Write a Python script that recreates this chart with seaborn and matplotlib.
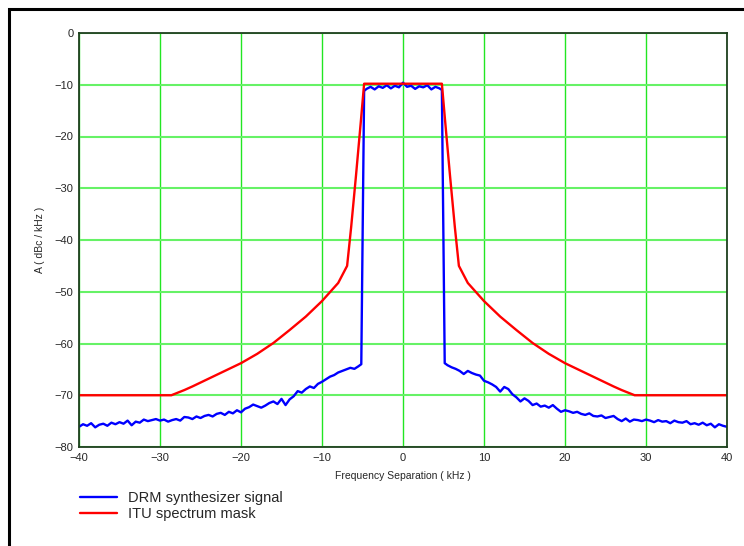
import numpy as np
import pandas as pd
import matplotlib
matplotlib.use("Agg")
import matplotlib.pyplot as plt
from matplotlib.patches import Rectangle
import seaborn as sns

# DRM synthesizer signal (dBc/kHz), lower skirt, passband, upper skirt
freq_low = np.arange(-40, -5.4, 0.5)
sig_low = [-76.1, -75.6, -75.9, -75.4, -76.2, -75.7, -75.5, -75.9, -75.3, -75.6,
           -75.2, -75.5, -74.9, -75.8, -75.1, -75.3, -74.7, -75.0, -74.8, -74.6,
           -74.9, -74.7, -75.1, -74.8, -74.6, -74.9, -74.2, -74.3, -74.6, -74.1,
           -74.4, -74.0, -73.8, -74.1, -73.6, -73.4, -73.8, -73.2, -73.5, -72.9,
           -73.3, -72.6, -72.3, -71.8, -72.1, -72.4, -72.0, -71.5, -71.2, -71.7,
           -70.7, -71.9, -70.8, -70.2, -69.2, -69.5, -68.8, -68.3, -68.6, -67.8,
           -67.4, -66.9, -66.4, -66.1, -65.6, -65.3, -65.0, -64.7, -64.9, -64.4]
freq_edge_l = [-5.15, -4.8]
sig_edge_l = [-64.0, -11.2]
freq_pass = np.arange(-4.5, 4.6, 0.5)
sig_pass = [-10.8, -10.4, -10.9, -10.3, -10.6, -10.1, -10.7, -10.2, -10.5, -9.6,
            -10.4, -10.2, -10.8, -10.3, -10.5, -10.1, -10.9, -10.4, -10.7]
freq_edge_r = [4.8, 5.15]
sig_edge_r = [-11.0, -63.8]
freq_high = np.arange(5.5, 40.1, 0.5)
sig_high = [-64.2, -64.6, -64.9, -65.3, -65.9, -65.3, -65.7, -66.0, -66.2, -67.2,
            -67.5, -67.9, -68.4, -69.3, -68.4, -68.8, -69.8, -70.4, -71.2, -70.6,
            -71.1, -71.9, -71.6, -72.2, -72.0, -72.4, -71.9, -72.6, -73.2, -72.9,
            -73.1, -73.4, -73.2, -73.6, -73.8, -73.5, -74.0, -74.1, -73.9, -74.4,
            -74.2, -74.0, -74.6, -75.0, -74.5, -75.1, -74.7, -74.8, -75.0, -74.7,
            -74.9, -75.2, -74.8, -75.1, -75.0, -75.4, -74.9, -75.2, -75.3, -75.0,
            -75.6, -75.4, -75.7, -75.3, -75.8, -75.5, -76.2, -75.6, -75.9, -76.1]

# ITU spectrum mask
mask_freq = [-40, -28.6, -27, -26, -24, -22, -20, -18, -16, -14, -12, -10, -8, -6.9,
             -6.4, -5.8, -5.2, -4.8, 4.8, 5.2, 5.8, 6.4, 6.9, 8, 10, 12, 14,
             16, 18, 20, 22, 24, 26, 27, 28.6, 40]
mask_level = [-70, -70, -69.0, -68.3, -66.8, -65.3, -63.8, -62.0, -59.9, -57.4,
              -54.8, -51.8, -48.3, -45.0, -37.5, -27.5, -17.0, -9.8, -9.8, -17.0,
              -27.5, -37.5, -45.0, -48.3, -51.8, -54.8, -57.4, -59.9, -62.0, -63.8,
              -65.3, -66.8, -68.3, -69.0, -70, -70]

signal = pd.DataFrame({
    "freq": np.concatenate([freq_low, freq_edge_l, freq_pass, freq_edge_r, freq_high]),
    "level": np.concatenate([sig_low, sig_edge_l, sig_pass, sig_edge_r, sig_high]),
})
mask = pd.DataFrame({"freq": mask_freq, "level": mask_level})

sns.set_style("white")
plt.rcParams["font.family"] = ["Liberation Sans", "DejaVu Sans"]

fig = plt.figure(figsize=(7.44, 5.46), dpi=100)
ax = fig.add_axes([79 / 744, 1 - 447 / 546, 648 / 744, 414 / 546])

sns.lineplot(data=signal, x="freq", y="level", ax=ax, color="#0000ff", lw=1.7,
             sort=False, estimator=None, label="DRM synthesizer signal")
sns.lineplot(data=mask, x="freq", y="level", ax=ax, color="#ff0000", lw=1.7,
             sort=False, estimator=None, label="ITU spectrum mask")

ax.set_xlim(-40, 40)
ax.set_ylim(-80, 0)
ax.set_xticks(np.arange(-40, 41, 10))
ax.set_yticks(np.arange(-80, 1, 10))
ax.grid(True, axis="y", color="#66f266", lw=1.5)
ax.grid(True, axis="x", color="#22e622", lw=1.0)
ax.set_axisbelow(True)
for s in ax.spines.values():
    s.set_color("#1f3f1f")
    s.set_linewidth(1.3)
ax.tick_params(length=0, labelsize=8, pad=4)
ax.set_xlabel("Frequency Separation ( kHz )", fontsize=7.5, labelpad=6)
ax.set_ylabel("A ( dBc / kHz )", fontsize=7.5, labelpad=7)

ax.legend(loc="upper left", bbox_to_anchor=(73 / 744, 1 - 484 / 546),
          bbox_transform=fig.transFigure, frameon=False, fontsize=10.5,
          handlelength=2.5, handletextpad=0.8, labelspacing=0.15, borderpad=0)

# outer frame (top and left edges visible)
fig.add_artist(Rectangle((8.5 / 744, -0.2), 1.2, 1.2 - 9 / 546,
                         transform=fig.transFigure, fill=False,
                         edgecolor="black", lw=2.2, clip_on=False))

fig.savefig("out.png", dpi=100)
